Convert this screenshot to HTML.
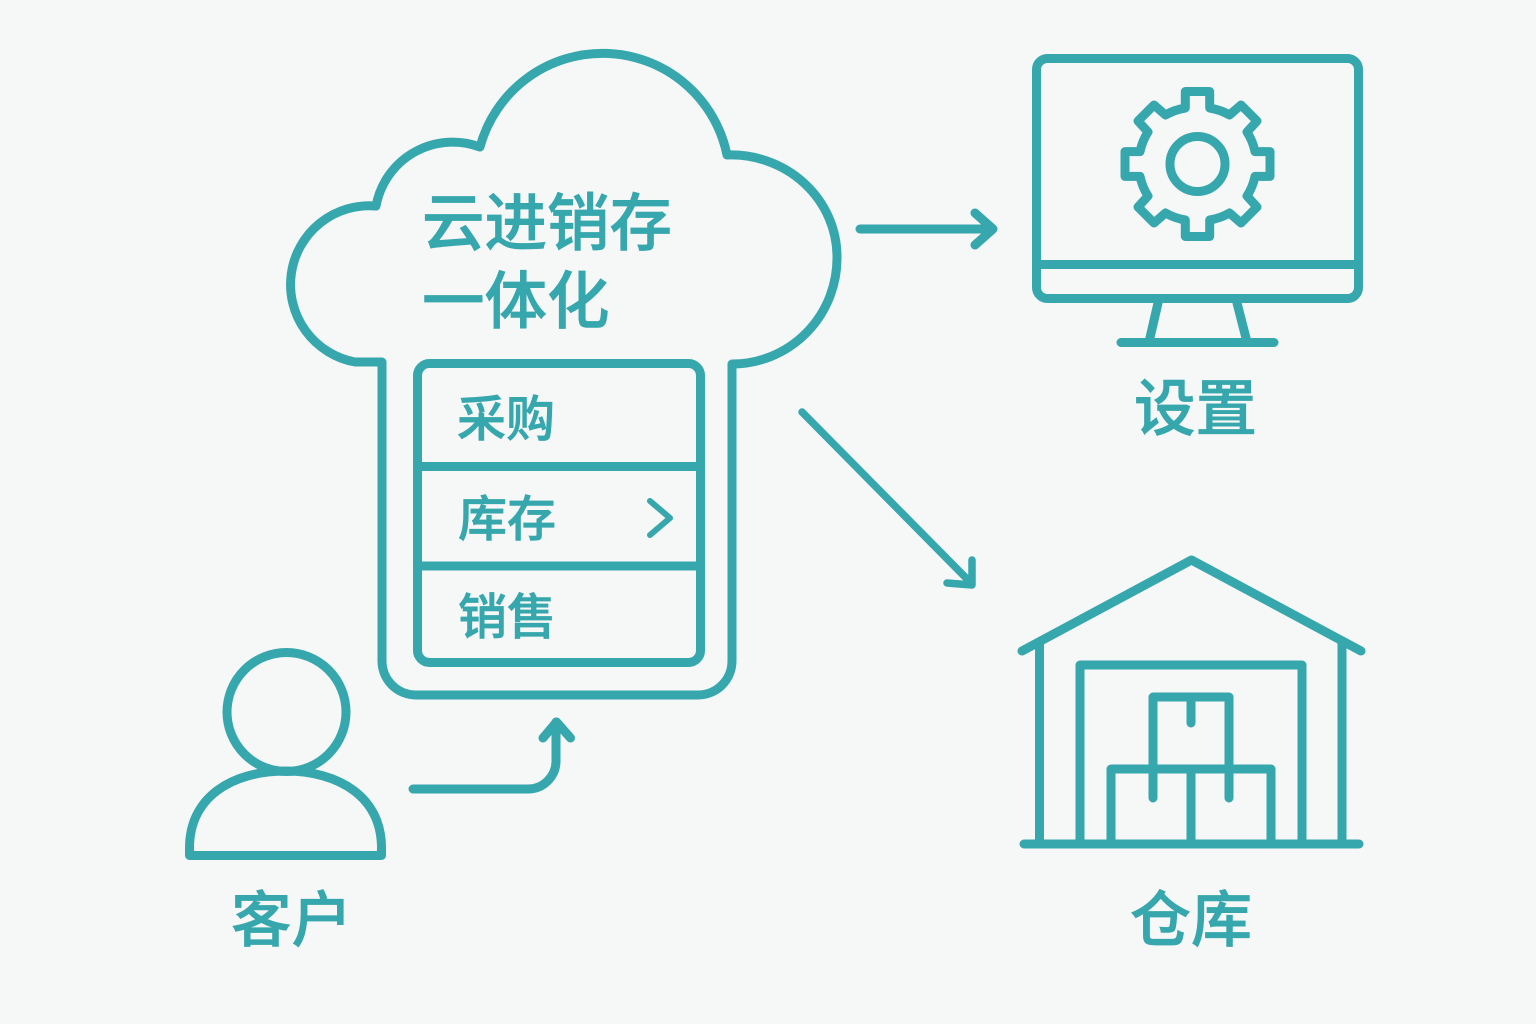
<!DOCTYPE html>
<html lang="zh">
<head>
<meta charset="utf-8">
<style>
html,body{margin:0;padding:0;background:#f6f7f7}
svg{display:block}
text{font-family:"Liberation Sans","Noto Sans CJK SC",sans-serif;fill:#36a7ad;stroke:#36a7ad;stroke-width:.7;font-weight:500}
.s{fill:none;stroke:#36a7ad;stroke-width:9;stroke-linecap:round;stroke-linejoin:round}
</style>
</head>
<body>
<svg width="1536" height="1024" viewBox="0 0 1536 1024" xmlns="http://www.w3.org/2000/svg">
<rect width="1536" height="1024" fill="#f6f7f7"/>

<!-- Cloud -->
<path class="s" d="M382 362V661A34 34 0 0 0 416 695H698A34 34 0 0 0 732 661V364A105 106 0 0 0 837 256A106 102 0 0 0 727 155A127 127 0 0 0 480 147A78 78 0 0 0 376 206A78.800 78.800 0 0 0 355 362Z"/>
<text x="422" y="245" font-size="62.500">云进销存</text>
<text x="422" y="323" font-size="62.500">一体化</text>

<!-- Menu -->
<rect class="s" x="417.500" y="363.500" width="283" height="299" rx="12"/>
<path class="s" d="M418 466.500H700M418 566H700"/>
<text x="457" y="436" font-size="49">采购</text>
<text x="458" y="536" font-size="49">库存</text>
<text x="458" y="634" font-size="49">销售</text>
<path class="s" style="stroke-width:6" d="M650 501L670 518L650 535"/>

<!-- Person -->
<circle class="s" cx="286.500" cy="712" r="59.500"/>
<path class="s" d="M189.500 848C189.500 797 232 771 285.500 771C339 771 381.500 797 381.500 848V855.500H189.500Z"/>
<text x="231" y="941" font-size="60.500">客户</text>

<!-- Arrows -->
<path class="s" d="M413 789H528A28 28 0 0 0 556 761V722M543 738L556.500 722L570.500 738"/>
<path class="s" d="M860 229H993M975 213L993 229L975 245"/>
<path class="s" style="stroke-width:7.500" d="M802 412L972 584M947 583L972 585L972 560"/>

<!-- Monitor -->
<rect class="s" x="1036.500" y="58.500" width="322" height="240" rx="11"/>
<path class="s" d="M1037 264.500H1358M1158 303L1149 342M1237 303L1247 342M1121 342.500H1274"/>
<g transform="translate(1197.500 164)">
<circle class="s" r="27.500"/>
<path class="s" d="M-12.200 -56V-72.500H12.200V-56A58 58 0 0 1 32 -49L43.500 -59L59.500 -43L49.500 -32A58 58 0 0 1 57.500 -12.400H72.500V12.400H57.500A58 58 0 0 1 49.500 32L59.500 43L43.500 59L32 49A58 58 0 0 1 12.200 56V72.500H-12.200V56A58 58 0 0 1 -32 49L-43.500 59L-59.500 43L-49.500 32A58 58 0 0 1 -57.500 12.400H-72.500V-12.400H-57.500A58 58 0 0 1 -49.500 -32L-59.500 -43L-43.500 -59L-32 -49A58 58 0 0 1 -12.200 -56Z"/>
</g>
<text x="1134" y="430" font-size="61.500">设置</text>

<!-- Warehouse -->
<path class="s" d="M1022 651L1191.500 560L1361 651"/>
<path class="s" d="M1024 844H1359M1039.500 642V844M1342 642V844"/>
<path class="s" d="M1080 844V665H1302V844"/>
<path class="s" d="M1153 798V697H1229V798M1191 697V723"/>
<path class="s" d="M1111 844V769H1271V844M1191 769V844"/>
<text x="1130" y="941" font-size="61">仓库</text>
</svg>
</body>
</html>
